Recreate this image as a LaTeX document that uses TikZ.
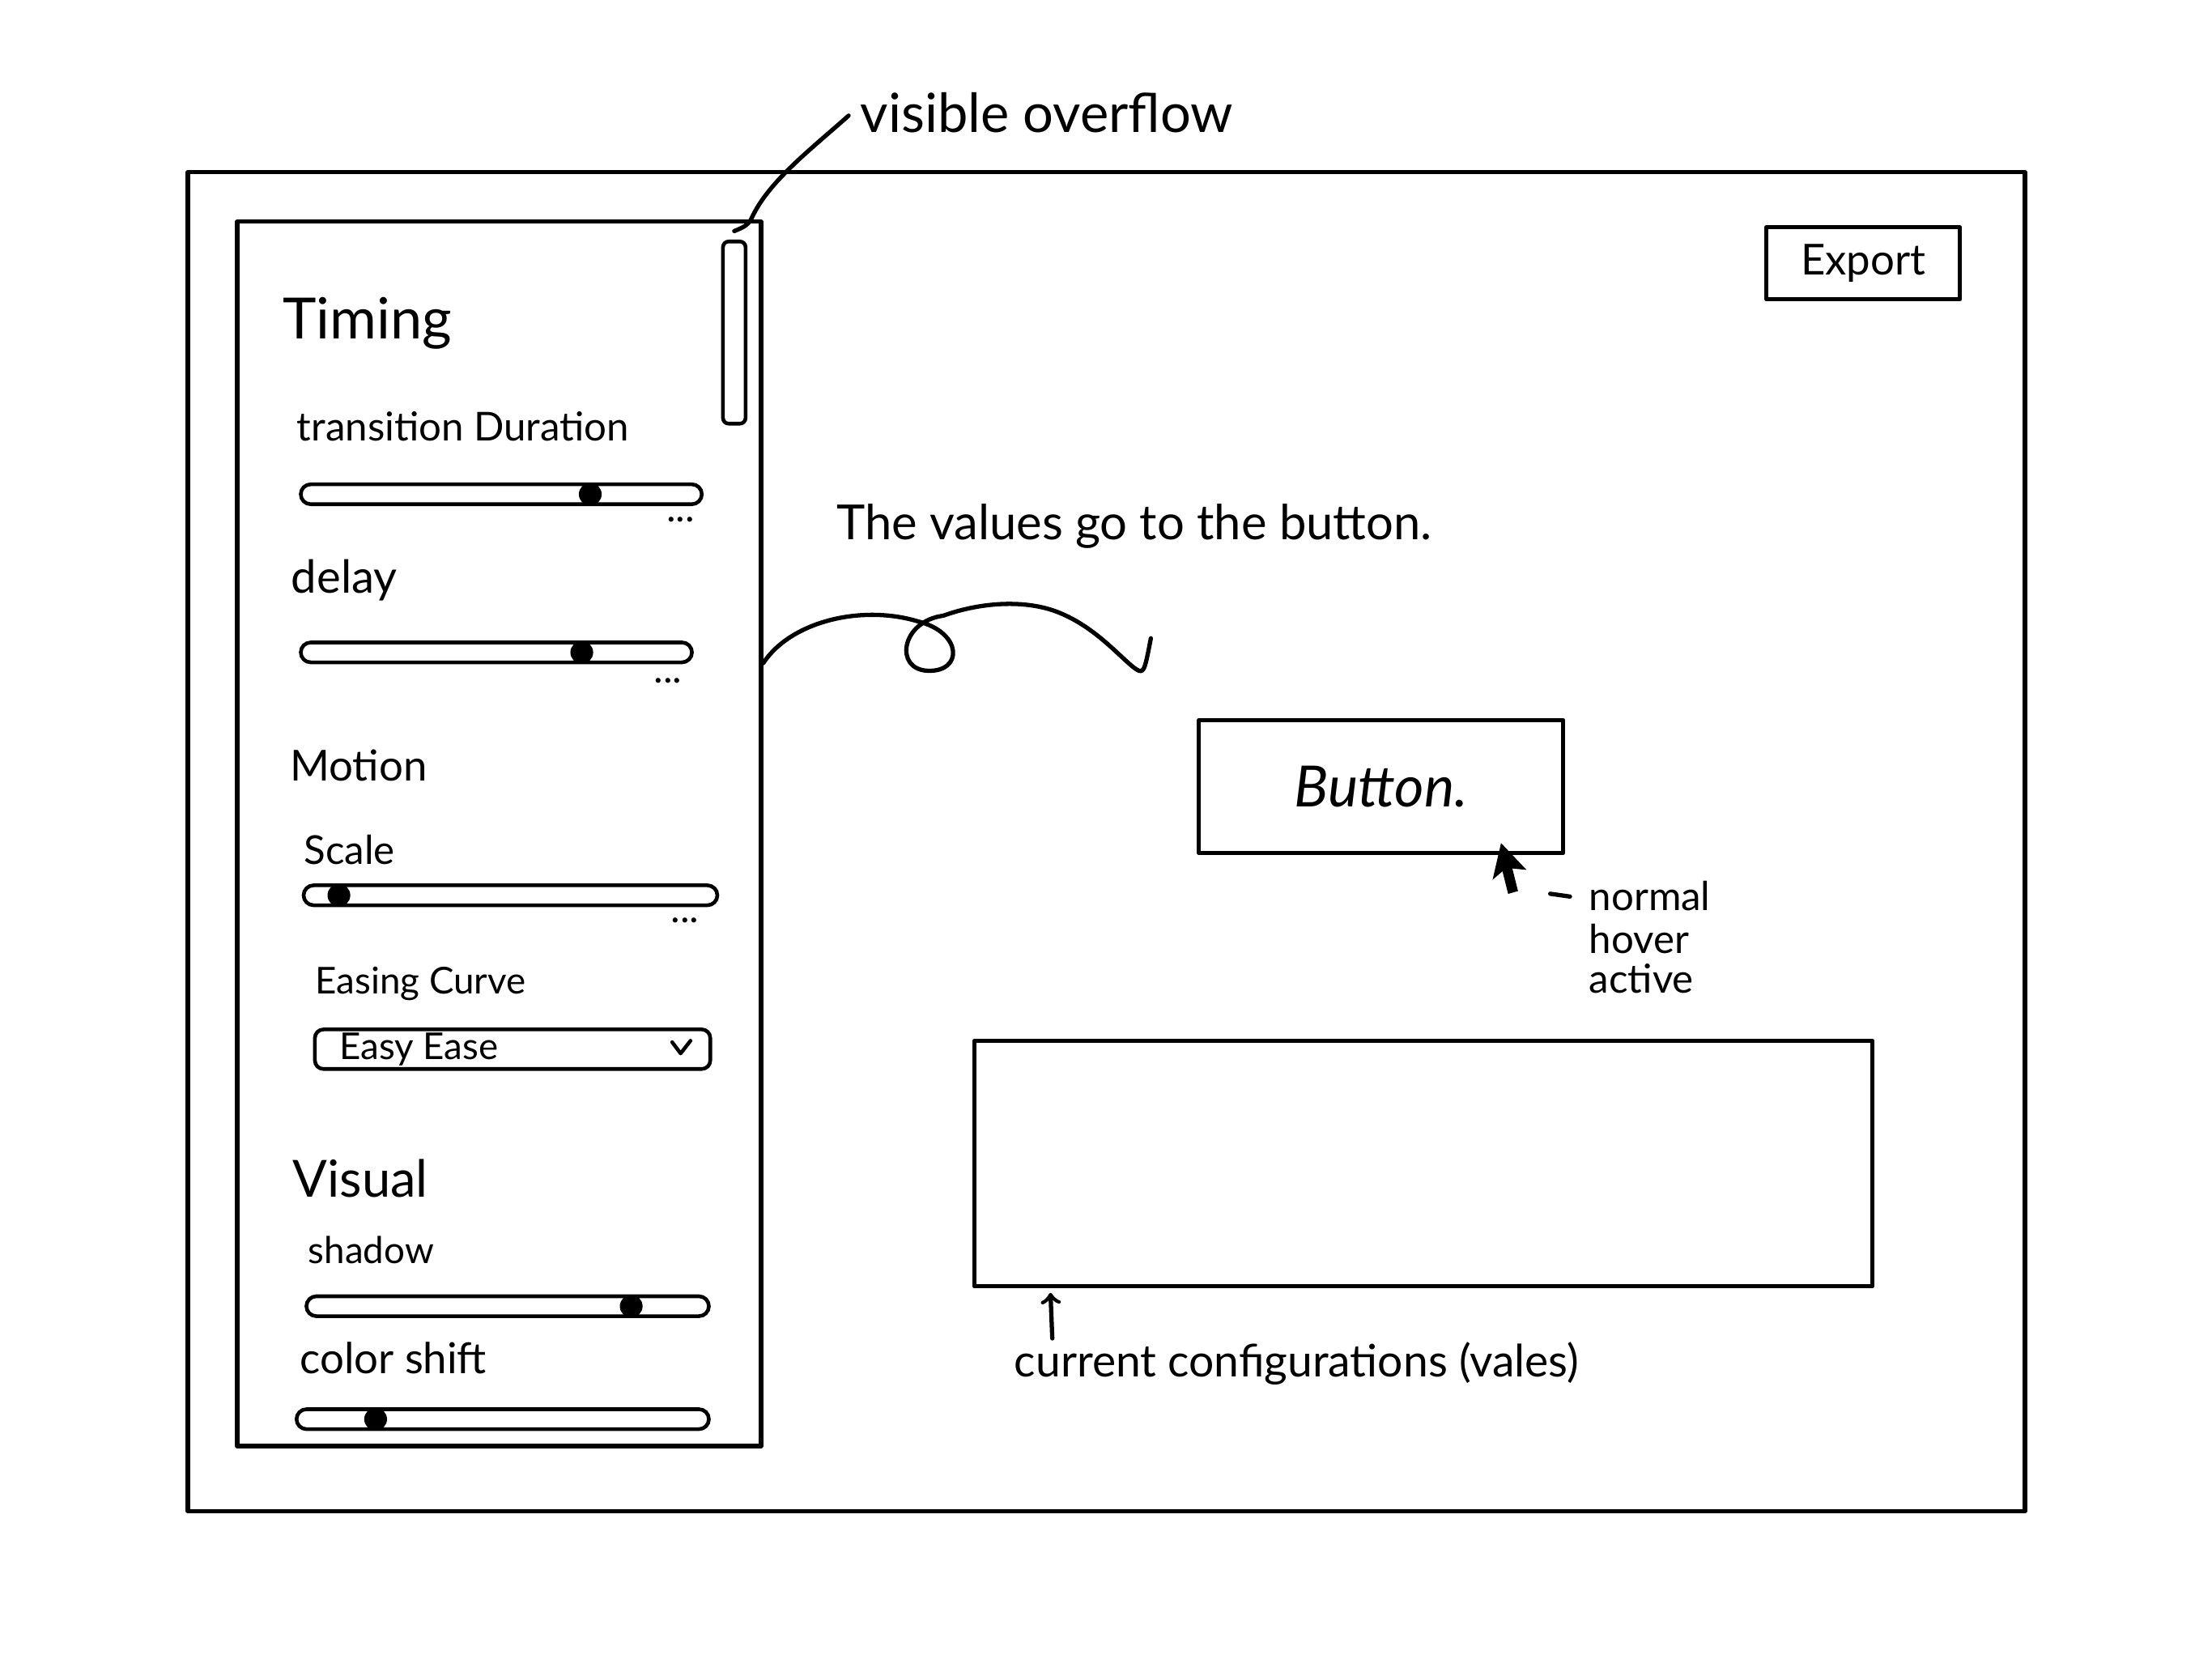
\documentclass[tikz,border=0pt]{standalone}
\usepackage{fontspec}
\setmainfont{Lato}
\usetikzlibrary{positioning,shapes}
\usetikzlibrary{arrows}
\usepackage{xcolor}
\newcommand{\px}{0.01744cm}
\newcommand{\sketchsize}[1]{\fontsize{#1}{#1}\selectfont}

\begin{document}
\begin{tikzpicture}
[x=\px, y=-\px,
% The pen style is used for every hand drawn stroke
pen/.style={line width=1.5pt, line cap=round, line join=round},
% The box style is used to draw the frames of the mock-up
box/.style={draw, pen, inner sep=0pt},
% The track and knob styles are used to draw the sliders
track/.style={draw, line width=1.3pt, rounded corners=3.5pt, minimum height=7pt, inner sep=0pt},
knob/.style={circle, fill, minimum size=8pt, inner sep=0pt},
% The heading and caption styles are used to draw the texts
heading/.style={anchor=base west, inner sep=0pt, font=\sketchsize{18}},
caption/.style={anchor=base west, inner sep=0pt, font=\sketchsize{14}},
more/.style={inner sep=0pt, font=\sketchsize{14}}
]
\useasboundingbox (0cm,0cm) rectangle (27.32cm,-20.48cm);

% Draw frames
\node [box, minimum width=1301*\px, minimum height=948*\px] (window) at (783.5,596) {};
\node [box, minimum width=371*\px, minimum height=867*\px] (panel) at (353.5,590.5) {};
\node [box, line width=1.3pt, rounded corners=2pt, minimum width=16*\px, minimum height=129*\px] (scroll) at (520,235.5) {};
\node [box, minimum width=137*\px, minimum height=51*\px, font=\sketchsize{15}] (export) at (1319.5,186.5) {Export};

% Timing section
\node [heading, font=\sketchsize{20}] (timing) at (200,240) {Timing};
\node [caption] (duration) at (210,312) {transition Duration};
\node [track, minimum width=284*\px] (durtrack) at (355,350) {};
\node [knob] (durknob) at (418,350) {};
\node [more] (durmore) at (482,368) {...};
\node [caption, font=\sketchsize{16}] (delay) at (206,420) {delay};
\node [track, minimum width=277*\px] (delaytrack) at (351.5,462) {};
\node [knob] (delayknob) at (412,462) {};
\node [more] (delaymore) at (473,482) {...};

% Motion section
\node [heading, font=\sketchsize{15}] (motion) at (205,553) {Motion};
\node [caption] (scale) at (215,612) {Scale};
\node [track, minimum width=293*\px] (scaletrack) at (361.5,634) {};
\node [knob] (scaleknob) at (240,634) {};
\node [more] (scalemore) at (485,652) {...};
\node [caption, font=\sketchsize{13}] (easing) at (223,704) {Easing Curve};
\node [box, line width=1.3pt, rounded corners=3pt, minimum width=280*\px, minimum height=28*\px] (dropdown) at (363,743) {};
\node [caption, font=\sketchsize{13}] (ease) at (240,750) {Easy Ease};
\draw [pen, line width=1.3pt] (476,738) -- (482,746) -- (489,737);

% Visual section
\node [heading] (visual) at (207,848) {Visual};
\node [caption, font=\sketchsize{13}] (shadow) at (218,895) {shadow};
\node [track, minimum width=285*\px] (shadowtrack) at (359.5,925) {};
\node [knob] (shadowknob) at (447,925) {};
\node [caption, font=\sketchsize{15}] (colorshift) at (212,973) {color shift};
\node [track, minimum width=292*\px] (colortrack) at (356,1005) {};
\node [knob] (colorknob) at (266,1005) {};

% Overflow note
\node [caption, font=\sketchsize{19}] (overflow) at (609,94) {visible overflow};
\draw [pen] ([xshift=-4pt,yshift=6pt]overflow.base west) .. controls (575,105) and (545,128) .. (533,153) .. controls (530,160) and (526,161) .. ([yshift=3pt]scroll.north);

% Values flow to the button
\node [caption, font=\sketchsize{17}] (values) at (592,382) {The values go to the button.};
\coordinate (flowend) at (815,452);
\draw [pen] ([yshift=60pt]panel.east) .. controls (560,440) and (610,428) .. (650,440)
  .. controls (682,448) and (682,476) .. (657,475)
  .. controls (633,474) and (638,440) .. (668,436)
  .. controls (690,428) and (720,424) .. (745,432)
  .. controls (772,441) and (790,462) .. (802,472)
  .. controls (810,478) .. (flowend);

% Button and its states
\node [box, minimum width=258*\px, minimum height=94*\px, font=\sketchsize{20}\itshape] (button) at (978,557) {Button.};
\coordinate (cursor) at (1063,597);
\fill (cursor) -- ++(-6,26) -- ++(7,-6) -- ++(4,16) -- ++(7,-2) -- ++(-4,-16) -- ++(10,1) -- cycle;
\node [caption] (normal) at (1125,645) {normal};
\node [caption, anchor=base west] (hover) at ([yshift=-15pt]normal.base west) {hover};
\node [caption, anchor=base west] (active) at ([yshift=-14pt]hover.base west) {active};
\draw [pen] ([xshift=-13.5pt,yshift=6pt]normal.base west) -- ++(14,2);

% Current configuration
\node [box, minimum width=636*\px, minimum height=174*\px] (config) at (1008,824) {};
\node [caption, font=\sketchsize{15.7}] (configlabel) at (718,975) {current configurations (vales)};
\draw [pen, ->] ([xshift=13.5pt,yshift=13.5pt]configlabel.base west) -- ([xshift=27.5pt,yshift=-1.5pt]config.south west);
\end{tikzpicture}
\end{document}
